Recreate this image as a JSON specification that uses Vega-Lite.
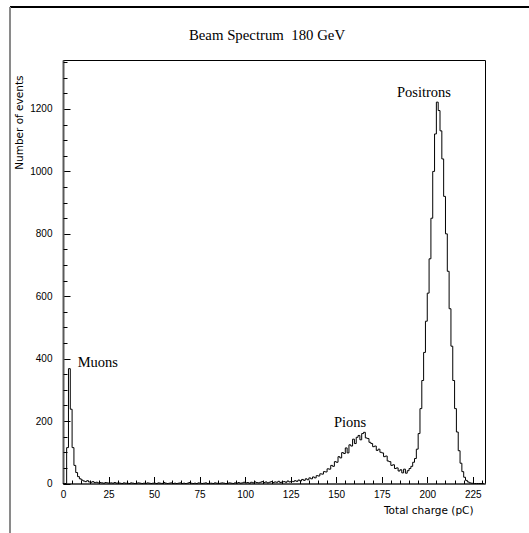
{
  "$schema": "https://vega.github.io/schema/vega-lite/v6.json",
  "width": 422,
  "height": 423.5,
  "autosize": "none",
  "padding": {"left": 63, "top": 60, "right": 44, "bottom": 49.5},
  "background": "white",
  "title": {
    "text": "Beam Spectrum\u00a0 180 GeV",
    "font": "Liberation Serif",
    "fontSize": 14.8,
    "fontWeight": "normal",
    "color": "black",
    "anchor": "middle",
    "frame": "group",
    "baseline": "alphabetic",
    "offset": 0,
    "dx": -7,
    "dy": 49
  },
  "config": {
    "view": {"stroke": "black", "strokeWidth": 1},
    "axis": {"grid": false, "labelFlush": false, "labelOverlap": false, "tickColor": "black", "labelColor": "black", "titleColor": "black"}
  },
  "datasets": {
    "spectrum": [
      {"q": 0, "n": 0}, {"q": 1, "n": 0}, {"q": 2, "n": 115}, {"q": 3, "n": 368}, {"q": 4, "n": 238},
      {"q": 5, "n": 115}, {"q": 6, "n": 58}, {"q": 7, "n": 35}, {"q": 8, "n": 22}, {"q": 9, "n": 15},
      {"q": 10, "n": 11}, {"q": 11, "n": 8}, {"q": 12, "n": 6}, {"q": 13, "n": 9}, {"q": 14, "n": 5},
      {"q": 15, "n": 4}, {"q": 16, "n": 6}, {"q": 17, "n": 3}, {"q": 18, "n": 4}, {"q": 19, "n": 2},
      {"q": 20, "n": 3}, {"q": 21, "n": 2}, {"q": 22, "n": 1}, {"q": 23, "n": 3}, {"q": 24, "n": 2},
      {"q": 25, "n": 1}, {"q": 26, "n": 2}, {"q": 27, "n": 1}, {"q": 28, "n": 3}, {"q": 29, "n": 1},
      {"q": 30, "n": 2}, {"q": 31, "n": 1}, {"q": 32, "n": 0}, {"q": 33, "n": 2}, {"q": 34, "n": 1},
      {"q": 35, "n": 1}, {"q": 36, "n": 0}, {"q": 37, "n": 2}, {"q": 38, "n": 1}, {"q": 39, "n": 0},
      {"q": 40, "n": 1}, {"q": 41, "n": 2}, {"q": 42, "n": 1}, {"q": 43, "n": 0}, {"q": 44, "n": 1},
      {"q": 45, "n": 0}, {"q": 46, "n": 2}, {"q": 47, "n": 1}, {"q": 48, "n": 0}, {"q": 49, "n": 1},
      {"q": 50, "n": 1}, {"q": 51, "n": 0}, {"q": 52, "n": 2}, {"q": 53, "n": 1}, {"q": 54, "n": 0},
      {"q": 55, "n": 3}, {"q": 56, "n": 1}, {"q": 57, "n": 0}, {"q": 58, "n": 1}, {"q": 59, "n": 2},
      {"q": 60, "n": 0}, {"q": 61, "n": 1}, {"q": 62, "n": 0}, {"q": 63, "n": 1}, {"q": 64, "n": 2},
      {"q": 65, "n": 0}, {"q": 66, "n": 1}, {"q": 67, "n": 0}, {"q": 68, "n": 1}, {"q": 69, "n": 3},
      {"q": 70, "n": 1}, {"q": 71, "n": 0}, {"q": 72, "n": 1}, {"q": 73, "n": 0}, {"q": 74, "n": 2},
      {"q": 75, "n": 1}, {"q": 76, "n": 0}, {"q": 77, "n": 1}, {"q": 78, "n": 2}, {"q": 79, "n": 0},
      {"q": 80, "n": 1}, {"q": 81, "n": 1}, {"q": 82, "n": 0}, {"q": 83, "n": 2}, {"q": 84, "n": 1},
      {"q": 85, "n": 0}, {"q": 86, "n": 1}, {"q": 87, "n": 2}, {"q": 88, "n": 1}, {"q": 89, "n": 0},
      {"q": 90, "n": 1}, {"q": 91, "n": 2}, {"q": 92, "n": 1}, {"q": 93, "n": 0}, {"q": 94, "n": 2},
      {"q": 95, "n": 1}, {"q": 96, "n": 3}, {"q": 97, "n": 1}, {"q": 98, "n": 2}, {"q": 99, "n": 4},
      {"q": 100, "n": 2}, {"q": 101, "n": 3}, {"q": 102, "n": 1}, {"q": 103, "n": 4}, {"q": 104, "n": 2},
      {"q": 105, "n": 5}, {"q": 106, "n": 3}, {"q": 107, "n": 2}, {"q": 108, "n": 4}, {"q": 109, "n": 6},
      {"q": 110, "n": 3}, {"q": 111, "n": 5}, {"q": 112, "n": 2}, {"q": 113, "n": 4}, {"q": 114, "n": 6},
      {"q": 115, "n": 3}, {"q": 116, "n": 5}, {"q": 117, "n": 4}, {"q": 118, "n": 7}, {"q": 119, "n": 3},
      {"q": 120, "n": 5}, {"q": 121, "n": 6}, {"q": 122, "n": 4}, {"q": 123, "n": 8}, {"q": 124, "n": 5},
      {"q": 125, "n": 7}, {"q": 126, "n": 6}, {"q": 127, "n": 9}, {"q": 128, "n": 7}, {"q": 129, "n": 11},
      {"q": 130, "n": 8}, {"q": 131, "n": 13}, {"q": 132, "n": 10}, {"q": 133, "n": 15}, {"q": 134, "n": 12},
      {"q": 135, "n": 18}, {"q": 136, "n": 15}, {"q": 137, "n": 21}, {"q": 138, "n": 18}, {"q": 139, "n": 25},
      {"q": 140, "n": 24}, {"q": 141, "n": 31}, {"q": 142, "n": 30}, {"q": 143, "n": 38}, {"q": 144, "n": 37},
      {"q": 145, "n": 47}, {"q": 146, "n": 46}, {"q": 147, "n": 58}, {"q": 148, "n": 55}, {"q": 149, "n": 70},
      {"q": 150, "n": 68}, {"q": 151, "n": 86}, {"q": 152, "n": 82}, {"q": 153, "n": 99}, {"q": 154, "n": 96},
      {"q": 155, "n": 114}, {"q": 156, "n": 98}, {"q": 157, "n": 124}, {"q": 158, "n": 120}, {"q": 159, "n": 142},
      {"q": 160, "n": 128}, {"q": 161, "n": 148}, {"q": 162, "n": 154}, {"q": 163, "n": 140}, {"q": 164, "n": 160},
      {"q": 165, "n": 164}, {"q": 166, "n": 146}, {"q": 167, "n": 144}, {"q": 168, "n": 132}, {"q": 169, "n": 128},
      {"q": 170, "n": 118}, {"q": 171, "n": 120}, {"q": 172, "n": 106}, {"q": 173, "n": 110}, {"q": 174, "n": 100},
      {"q": 175, "n": 98}, {"q": 176, "n": 86}, {"q": 177, "n": 88}, {"q": 178, "n": 72}, {"q": 179, "n": 70},
      {"q": 180, "n": 58}, {"q": 181, "n": 60}, {"q": 182, "n": 48}, {"q": 183, "n": 50}, {"q": 184, "n": 40},
      {"q": 185, "n": 44}, {"q": 186, "n": 34}, {"q": 187, "n": 46}, {"q": 188, "n": 33}, {"q": 189, "n": 41},
      {"q": 190, "n": 48}, {"q": 191, "n": 55}, {"q": 192, "n": 68}, {"q": 193, "n": 80}, {"q": 194, "n": 110},
      {"q": 195, "n": 160}, {"q": 196, "n": 240}, {"q": 197, "n": 330}, {"q": 198, "n": 420}, {"q": 199, "n": 520},
      {"q": 200, "n": 610}, {"q": 201, "n": 720}, {"q": 202, "n": 850}, {"q": 203, "n": 1000}, {"q": 204, "n": 1120},
      {"q": 205, "n": 1222}, {"q": 206, "n": 1195}, {"q": 207, "n": 1130}, {"q": 208, "n": 1040}, {"q": 209, "n": 920},
      {"q": 210, "n": 800}, {"q": 211, "n": 680}, {"q": 212, "n": 560}, {"q": 213, "n": 440}, {"q": 214, "n": 330},
      {"q": 215, "n": 240}, {"q": 216, "n": 165}, {"q": 217, "n": 105}, {"q": 218, "n": 65}, {"q": 219, "n": 38},
      {"q": 220, "n": 20}, {"q": 221, "n": 10}, {"q": 222, "n": 5}, {"q": 223, "n": 2}, {"q": 224, "n": 1},
      {"q": 225, "n": 0}, {"q": 226, "n": 0}, {"q": 227, "n": 0}, {"q": 228, "n": 0}, {"q": 229, "n": 0},
      {"q": 230, "n": 0}, {"q": 231, "n": 0}
    ],
    "peaks": [
      {"label": "Muons", "q": 19.1, "n": 374},
      {"label": "Pions", "q": 157.6, "n": 182},
      {"label": "Positrons", "q": 198.2, "n": 1239}
    ]
  },
  "resolve": {"axis": {"x": "independent", "y": "independent"}},
  "layer": [
    {
      "description": "Page frame: top edge",
      "data": {"values": [{}]},
      "mark": {"type": "rule", "color": "black", "strokeWidth": 2},
      "encoding": {
        "x": {"datum": -29.1, "type": "quantitative", "scale": {"domain": [0, 231.7], "nice": false, "zero": false}, "axis": null},
        "x2": {"datum": 256},
        "y": {"datum": 1526.8, "type": "quantitative", "scale": {"domain": [0, 1357], "nice": false}, "axis": null}
      }
    },
    {
      "description": "Page frame: left edge",
      "data": {"values": [{}]},
      "mark": {"type": "rule", "color": "#8a8a8a", "strokeWidth": 2},
      "encoding": {
        "x": {"datum": -29.1, "type": "quantitative", "axis": null},
        "y": {"datum": 1526.8, "type": "quantitative", "axis": null},
        "y2": {"datum": -160}
      }
    },
    {
      "description": "Histogram outline",
      "data": {"name": "spectrum"},
      "mark": {"type": "line", "interpolate": "step-after", "color": "black", "strokeWidth": 1},
      "encoding": {
        "x": {
          "field": "q", "type": "quantitative",
          "axis": {
            "orient": "bottom",
            "values": [0, 25, 50, 75, 100, 125, 150, 175, 200, 225],
            "tickSize": -7, "tickWidth": 1,
            "domainColor": "#5a5a5a", "domainWidth": 2,
            "labelFont": "Liberation Sans", "labelFontSize": 10, "labelPadding": 13,
            "title": "Total charge (pC)",
            "titleFont": "DejaVu Sans", "titleFontSize": 10.5, "titleFontWeight": "normal",
            "titleAlign": "right", "titleAnchor": "end", "titleBaseline": "middle",
            "titleX": 410, "titleY": 26.5
          }
        },
        "y": {
          "field": "n", "type": "quantitative",
          "axis": {
            "orient": "left",
            "values": [0, 200, 400, 600, 800, 1000, 1200],
            "format": "d",
            "tickSize": -7, "tickWidth": 1,
            "domainColor": "#5a5a5a", "domainWidth": 2,
            "labelFont": "Liberation Sans", "labelFontSize": 10, "labelPadding": 18,
            "title": "Number of events",
            "titleFont": "DejaVu Sans", "titleFontSize": 10.5, "titleFontWeight": "normal",
            "titleAngle": -90, "titleAlign": "right", "titleBaseline": "middle",
            "titleX": -43.5, "titleY": 15
          }
        }
      }
    },
    {
      "description": "Peak labels, also carrying the minor tick axes",
      "data": {"name": "peaks"},
      "mark": {"type": "text", "font": "Liberation Serif", "fontSize": 14.5, "color": "black", "align": "center", "baseline": "alphabetic"},
      "encoding": {
        "x": {
          "field": "q", "type": "quantitative",
          "axis": {
            "orient": "bottom",
            "values": [5, 10, 15, 20, 30, 35, 40, 45, 55, 60, 65, 70, 80, 85, 90, 95, 105, 110, 115, 120, 130, 135, 140, 145, 155, 160, 165, 170, 180, 185, 190, 195, 205, 210, 215, 220, 230],
            "tickSize": -3.5, "tickWidth": 1, "domain": false, "labels": false, "title": null
          }
        },
        "y": {
          "field": "n", "type": "quantitative",
          "axis": {
            "orient": "left",
            "values": [50, 100, 150, 250, 300, 350, 450, 500, 550, 650, 700, 750, 850, 900, 950, 1050, 1100, 1150, 1250, 1300, 1350],
            "tickSize": -4, "tickWidth": 1, "domain": false, "labels": false, "title": null
          }
        },
        "text": {"field": "label"}
      }
    }
  ]
}
